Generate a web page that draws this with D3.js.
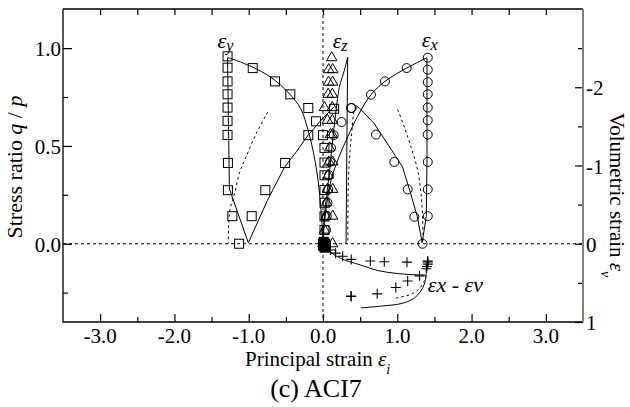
<!DOCTYPE html>
<html>
<head>
<meta charset="utf-8">
<script src="https://cdn.jsdelivr.net/npm/d3@7"></script>
<style>
  body { margin: 0; background: #fff; }
  svg { display: block; }
  text { font-family: "Liberation Serif", "Times New Roman", serif; fill: #000; }
</style>
</head>
<body>
<div id="chart"></div>
<script>
// stress ratio q/p vs principal strain
const squaresLoad = [[0.0,0.0],[0.02,0.07],[0.02,0.14],[0.02,0.21],[0.02,0.275],[0.02,0.35],[0.02,0.415],[0.02,0.49],[0.0,0.555],[-0.094,0.626],[-0.198,0.694],[-0.44,0.764],[-0.646,0.83],[-0.946,0.898]];
const squaresUnload = [[-1.285,0.958],[-1.285,0.90],[-1.285,0.83],[-1.285,0.764],[-1.285,0.696],[-1.285,0.628],[-1.285,0.556],[-1.28,0.413],[-1.28,0.274],[-1.22,0.141],[-1.13,0.0]];
const squaresReverse = [[-0.96,0.141],[-0.776,0.274],[-0.51,0.413],[-0.198,0.555],[0.15,0.69]];

const circlesLoad = [[0.03,0.0],[0.04,0.07],[0.05,0.14],[0.06,0.21],[0.07,0.278],[0.08,0.35],[0.095,0.418],[0.108,0.49],[0.144,0.555],[0.25,0.622],[0.377,0.694],[0.646,0.762],[0.834,0.83],[1.126,0.898]];
const circlesUnload = [[1.41,0.951],[1.41,0.89],[1.41,0.826],[1.41,0.764],[1.41,0.696],[1.41,0.631],[1.41,0.558],[1.41,0.418],[1.41,0.278],[1.41,0.141],[1.34,0.0]];
const circlesReverse = [[1.23,0.138],[1.14,0.278],[0.96,0.418],[0.713,0.558],[0.385,0.694]];

const trianglesLoad = [[0.0,0.0],[0.02,0.07],[0.04,0.14],[0.05,0.21],[0.06,0.278],[0.07,0.35],[0.08,0.418],[0.09,0.49],[0.1,0.558],[0.06,0.631],[0.02,0.696],[0.07,0.764],[0.075,0.826],[0.077,0.89]];
const trianglesUnload = [[0.117,0.951],[0.13,0.89],[0.13,0.826],[0.125,0.764],[0.125,0.696],[0.125,0.631],[0.125,0.558],[0.13,0.418],[0.13,0.278],[0.13,0.141],[0.13,0.0]];

const originPts = [[0.0,-0.01],[0.02,-0.02],[0.04,-0.015],[0.01,0.01],[0.03,0.0]];

// volumetric strain (right axis) vs epsilon_x
const plusLoad = [[0.03,0.03],[0.1,0.08],[0.17,0.12],[0.265,0.16],[0.38,0.2],[0.637,0.22],[0.825,0.23],[1.13,0.235],[1.41,0.22]];
const plusUnload = [[1.41,0.232],[1.41,0.26],[1.40,0.29],[1.39,0.32],[1.30,0.41],[1.14,0.476],[0.98,0.56],[0.73,0.64],[0.377,0.668],[0.38,0.675]];

// simulated curves
const lineYload = [[0,0.02],[-0.027,0.17],[-0.067,0.325],[-0.12,0.45],[-0.2,0.58],[-0.3,0.69],[-0.46,0.77],[-0.70,0.85],[-0.97,0.907],[-1.28,0.952]];
const lineYunload = [[-1.285,0.952],[-1.27,0.55],[-1.26,0.28],[-1.005,0.005],[-0.75,0.22],[-0.52,0.39],[-0.36,0.47],[-0.2,0.555],[-0.03,0.63],[0.15,0.70]];
const lineXload = [[0,0.02],[0.04,0.172],[0.108,0.325],[0.198,0.427],[0.332,0.546],[0.51,0.682],[0.646,0.762],[0.834,0.83],[1.126,0.898],[1.40,0.951]];
const lineXunload = [[1.40,0.951],[1.40,0.42],[1.39,0.14],[1.335,0.005],[1.27,0.138],[1.18,0.257],[1.07,0.393],[0.94,0.469],[0.69,0.614],[0.51,0.686],[0.45,0.705]];
const lineZload = [[0,0],[0.01,0.1],[0.04,0.22],[0.085,0.36],[0.13,0.53],[0.175,0.68],[0.22,0.8],[0.287,0.886],[0.332,0.954]];
const lineZunload = [[0.332,0.954],[0.31,0.0]];

const dotY = [[-0.744,0.673],[-0.9,0.563],[-1.036,0.444],[-1.126,0.36],[-1.19,0.257],[-1.25,0.18],[-1.27,0.1],[-1.275,0]];
const dotX = [[1.005,0.686],[1.094,0.597],[1.184,0.495],[1.274,0.376],[1.319,0.257],[1.342,0.121],[1.345,0]];
const dotZ = [[0.45,0.70],[0.42,0.68],[0.386,0.563],[0.355,0.427],[0.34,0.29],[0.335,0.15],[0.335,0]];

const volLoad = [[0,0],[0.05,0.06],[0.15,0.14],[0.27,0.2],[0.5,0.27],[0.75,0.345],[1.0,0.38],[1.2,0.395],[1.39,0.40]];
const volUnload = [[1.39,0.40],[1.37,0.5],[1.32,0.6],[1.22,0.7],[1.05,0.765],[0.8,0.795],[0.51,0.82]];
const volDot = [[1.39,0.40],[1.36,0.48],[1.31,0.56],[1.2,0.64],[1.05,0.68],[0.95,0.70]];

// ticks
const xMajor = [-3, -2, -1, 0, 1, 2, 3];
const xMinor = [-2.5, -1.5, -0.5, 0.5, 1.5, 2.5];
const qMajor = [0, 0.5, 1.0];
const qMinor = [-0.25, 0.25, 0.75];
const vMajor = [-2, -1, 0, 1];
const vMinor = [-2.5, -1.5, -0.5, 0.5];

const width = 630, height = 407;
const serif = "Liberation Serif, Times New Roman, serif";

const x = d3.scaleLinear().domain([-3.5, 3.5]).range([63, 583]);
const y = d3.scaleLinear().domain([-0.4, 1.2]).range([322, 9]);
const yv = d3.scaleLinear().domain([1, -3]).range([322, 9]);

const svg = d3.select("#chart").append("svg")
  .attr("width", width)
  .attr("height", height);

// zero reference lines
svg.append("line")
  .attr("x1", x(-3.5)).attr("x2", x(3.5))
  .attr("y1", y(0)).attr("y2", y(0))
  .attr("stroke", "#000").attr("stroke-width", 1).attr("stroke-dasharray", "3,3");
svg.append("line")
  .attr("x1", x(0)).attr("x2", x(0))
  .attr("y1", y(1.2)).attr("y2", y(-0.4))
  .attr("stroke", "#000").attr("stroke-width", 1).attr("stroke-dasharray", "3,3");

const lineQ = d3.line().x(d => x(d[0])).y(d => y(d[1]));
const lineV = d3.line().x(d => x(d[0])).y(d => yv(d[1]));
const smooth = d3.curveCatmullRom.alpha(0.5);

function drawLine(data, gen, curve, dashed) {
  svg.append("path")
    .datum(data)
    .attr("d", gen.curve(curve))
    .attr("fill", "none")
    .attr("stroke", "#000")
    .attr("stroke-width", 1)
    .attr("stroke-dasharray", dashed ? "2.5,3" : null);
}

drawLine(lineYload, lineQ, smooth, false);
drawLine(lineYunload, lineQ, d3.curveLinear, false);
drawLine(lineXload, lineQ, smooth, false);
drawLine(lineXunload, lineQ, d3.curveLinear, false);
drawLine(lineZload, lineQ, smooth, false);
drawLine(lineZunload, lineQ, d3.curveLinear, false);
drawLine(dotY, lineQ, smooth, true);
drawLine(dotX, lineQ, smooth, true);
drawLine(dotZ, lineQ, smooth, true);
drawLine(volLoad, lineV, smooth, false);
drawLine(volUnload, lineV, smooth, false);
drawLine(volDot, lineV, smooth, true);

// markers
function squares(data, fill) {
  svg.append("g").selectAll("rect").data(data).enter().append("rect")
    .attr("x", d => x(d[0]) - 4.5)
    .attr("y", d => y(d[1]) - 4.5)
    .attr("width", 9).attr("height", 9)
    .attr("fill", fill || "none")
    .attr("stroke", "#000").attr("stroke-width", 1);
}
function circles(data) {
  svg.append("g").selectAll("circle").data(data).enter().append("circle")
    .attr("cx", d => x(d[0]))
    .attr("cy", d => y(d[1]))
    .attr("r", 4.5)
    .attr("fill", "none")
    .attr("stroke", "#000").attr("stroke-width", 1);
}
const tri = d3.symbol().type(d3.symbolTriangle).size(48);
function triangles(data) {
  svg.append("g").selectAll("path").data(data).enter().append("path")
    .attr("d", tri)
    .attr("transform", d => `translate(${x(d[0])},${y(d[1])})`)
    .attr("fill", "none")
    .attr("stroke", "#000").attr("stroke-width", 1);
}
function pluses(data) {
  svg.append("g").selectAll("path").data(data).enter().append("path")
    .attr("d", "M-5,0H5M0,-5V5")
    .attr("transform", d => `translate(${x(d[0])},${yv(d[1])})`)
    .attr("fill", "none")
    .attr("stroke", "#000").attr("stroke-width", 1.1);
}

squares(squaresLoad);
squares(squaresUnload);
squares(squaresReverse);
triangles(trianglesLoad);
triangles(trianglesUnload);
circles(circlesLoad);
circles(circlesUnload);
circles(circlesReverse);
squares(originPts, "#000");
pluses(plusLoad);
pluses(plusUnload);

// axes: ticks point inward, labels drawn separately
function ticks(axis, vals, size, tx) {
  const g = svg.append("g")
    .attr("transform", tx)
    .call(axis.tickValues(vals).tickSize(size).tickFormat(""));
  g.select(".domain").remove();
  g.selectAll(".tick text").remove();
  g.selectAll(".tick line").attr("stroke", "#000").attr("stroke-width", 1.2);
  return g;
}

ticks(d3.axisBottom(x), xMajor, -8, "translate(0,322)");
ticks(d3.axisBottom(x), xMinor, -5, "translate(0,322)");
ticks(d3.axisTop(x), xMajor.concat(xMinor), -6, "translate(0,9)");
ticks(d3.axisLeft(y), qMajor, -9, "translate(63,0)");
ticks(d3.axisLeft(y), qMinor, -5, "translate(63,0)");
ticks(d3.axisRight(yv), vMajor, -8, "translate(583,0)");
ticks(d3.axisRight(yv), vMinor, -5, "translate(583,0)");

// tick labels (plain hyphen for minus, as in the original)
svg.append("g").selectAll("text").data(xMajor).enter().append("text")
  .attr("x", d => x(d)).attr("y", 343)
  .attr("text-anchor", "middle").attr("font-size", 21).attr("font-family", serif)
  .text(d => d.toFixed(1));
svg.append("g").selectAll("text").data(qMajor).enter().append("text")
  .attr("x", 61).attr("y", d => y(d) + 8)
  .attr("text-anchor", "end").attr("font-size", 21).attr("font-family", serif)
  .text(d => d.toFixed(1));
svg.append("g").selectAll("text").data(vMajor).enter().append("text")
  .attr("x", 586).attr("y", d => yv(d) + 8)
  .attr("text-anchor", "start").attr("font-size", 21).attr("font-family", serif)
  .text(d => String(d));

// frame
svg.append("path")
  .attr("d", `M${x(-3.5)},${y(1.2)}H${x(3.5)}M${x(-3.5)},${y(1.2)}V${y(-0.4)}H${x(3.5)}`)
  .attr("fill", "none").attr("stroke", "#000").attr("stroke-width", 1.3);
svg.append("line")
  .attr("x1", x(3.5)).attr("x2", x(3.5))
  .attr("y1", y(1.2)).attr("y2", y(-0.4))
  .attr("stroke", "#808080").attr("stroke-width", 2);

// axis titles
const left = svg.append("text")
  .attr("transform", "translate(22,167) rotate(-90)")
  .attr("text-anchor", "middle").attr("font-size", 22);
left.append("tspan").text("Stress ratio ");
left.append("tspan").attr("font-style", "italic").text("q");
left.append("tspan").text(" / ");
left.append("tspan").attr("font-style", "italic").text("p");

const right = svg.append("text")
  .attr("transform", "translate(610,195) rotate(90)")
  .attr("text-anchor", "middle").attr("font-size", 21);
right.append("tspan").text("Volumetric strain  ");
right.append("tspan").attr("font-style", "italic").text("ε");
right.append("tspan").attr("font-style", "italic").attr("font-size", 14).attr("dy", 9).text("v");

const bot = svg.append("text")
  .attr("x", 245).attr("y", 366)
  .attr("font-size", 21);
bot.append("tspan").text("Principal strain  ");
bot.append("tspan").attr("font-style", "italic").text("ε");
bot.append("tspan").attr("font-style", "italic").attr("font-size", 14).attr("dy", 8).text("i");

svg.append("text")
  .attr("x", 316).attr("y", 397)
  .attr("text-anchor", "middle").attr("font-size", 26)
  .text("(c) ACI7");

// series labels
function epsLabel(px, py, sub) {
  const t = svg.append("text").attr("x", px).attr("y", py)
    .attr("font-size", 22).attr("font-style", "italic");
  t.append("tspan").text("ε");
  t.append("tspan").attr("font-size", 16).attr("dy", 3).text(sub);
}
epsLabel(x(-1.42), y(1.0), "y");
epsLabel(x(0.13), y(1.0), "z");
epsLabel(x(1.33), y(1.005), "x");

svg.append("text")
  .attr("x", x(1.41)).attr("y", yv(0.62))
  .attr("font-size", 22).attr("font-style", "italic")
  .text("εx - εv");
</script>
</body>
</html>
